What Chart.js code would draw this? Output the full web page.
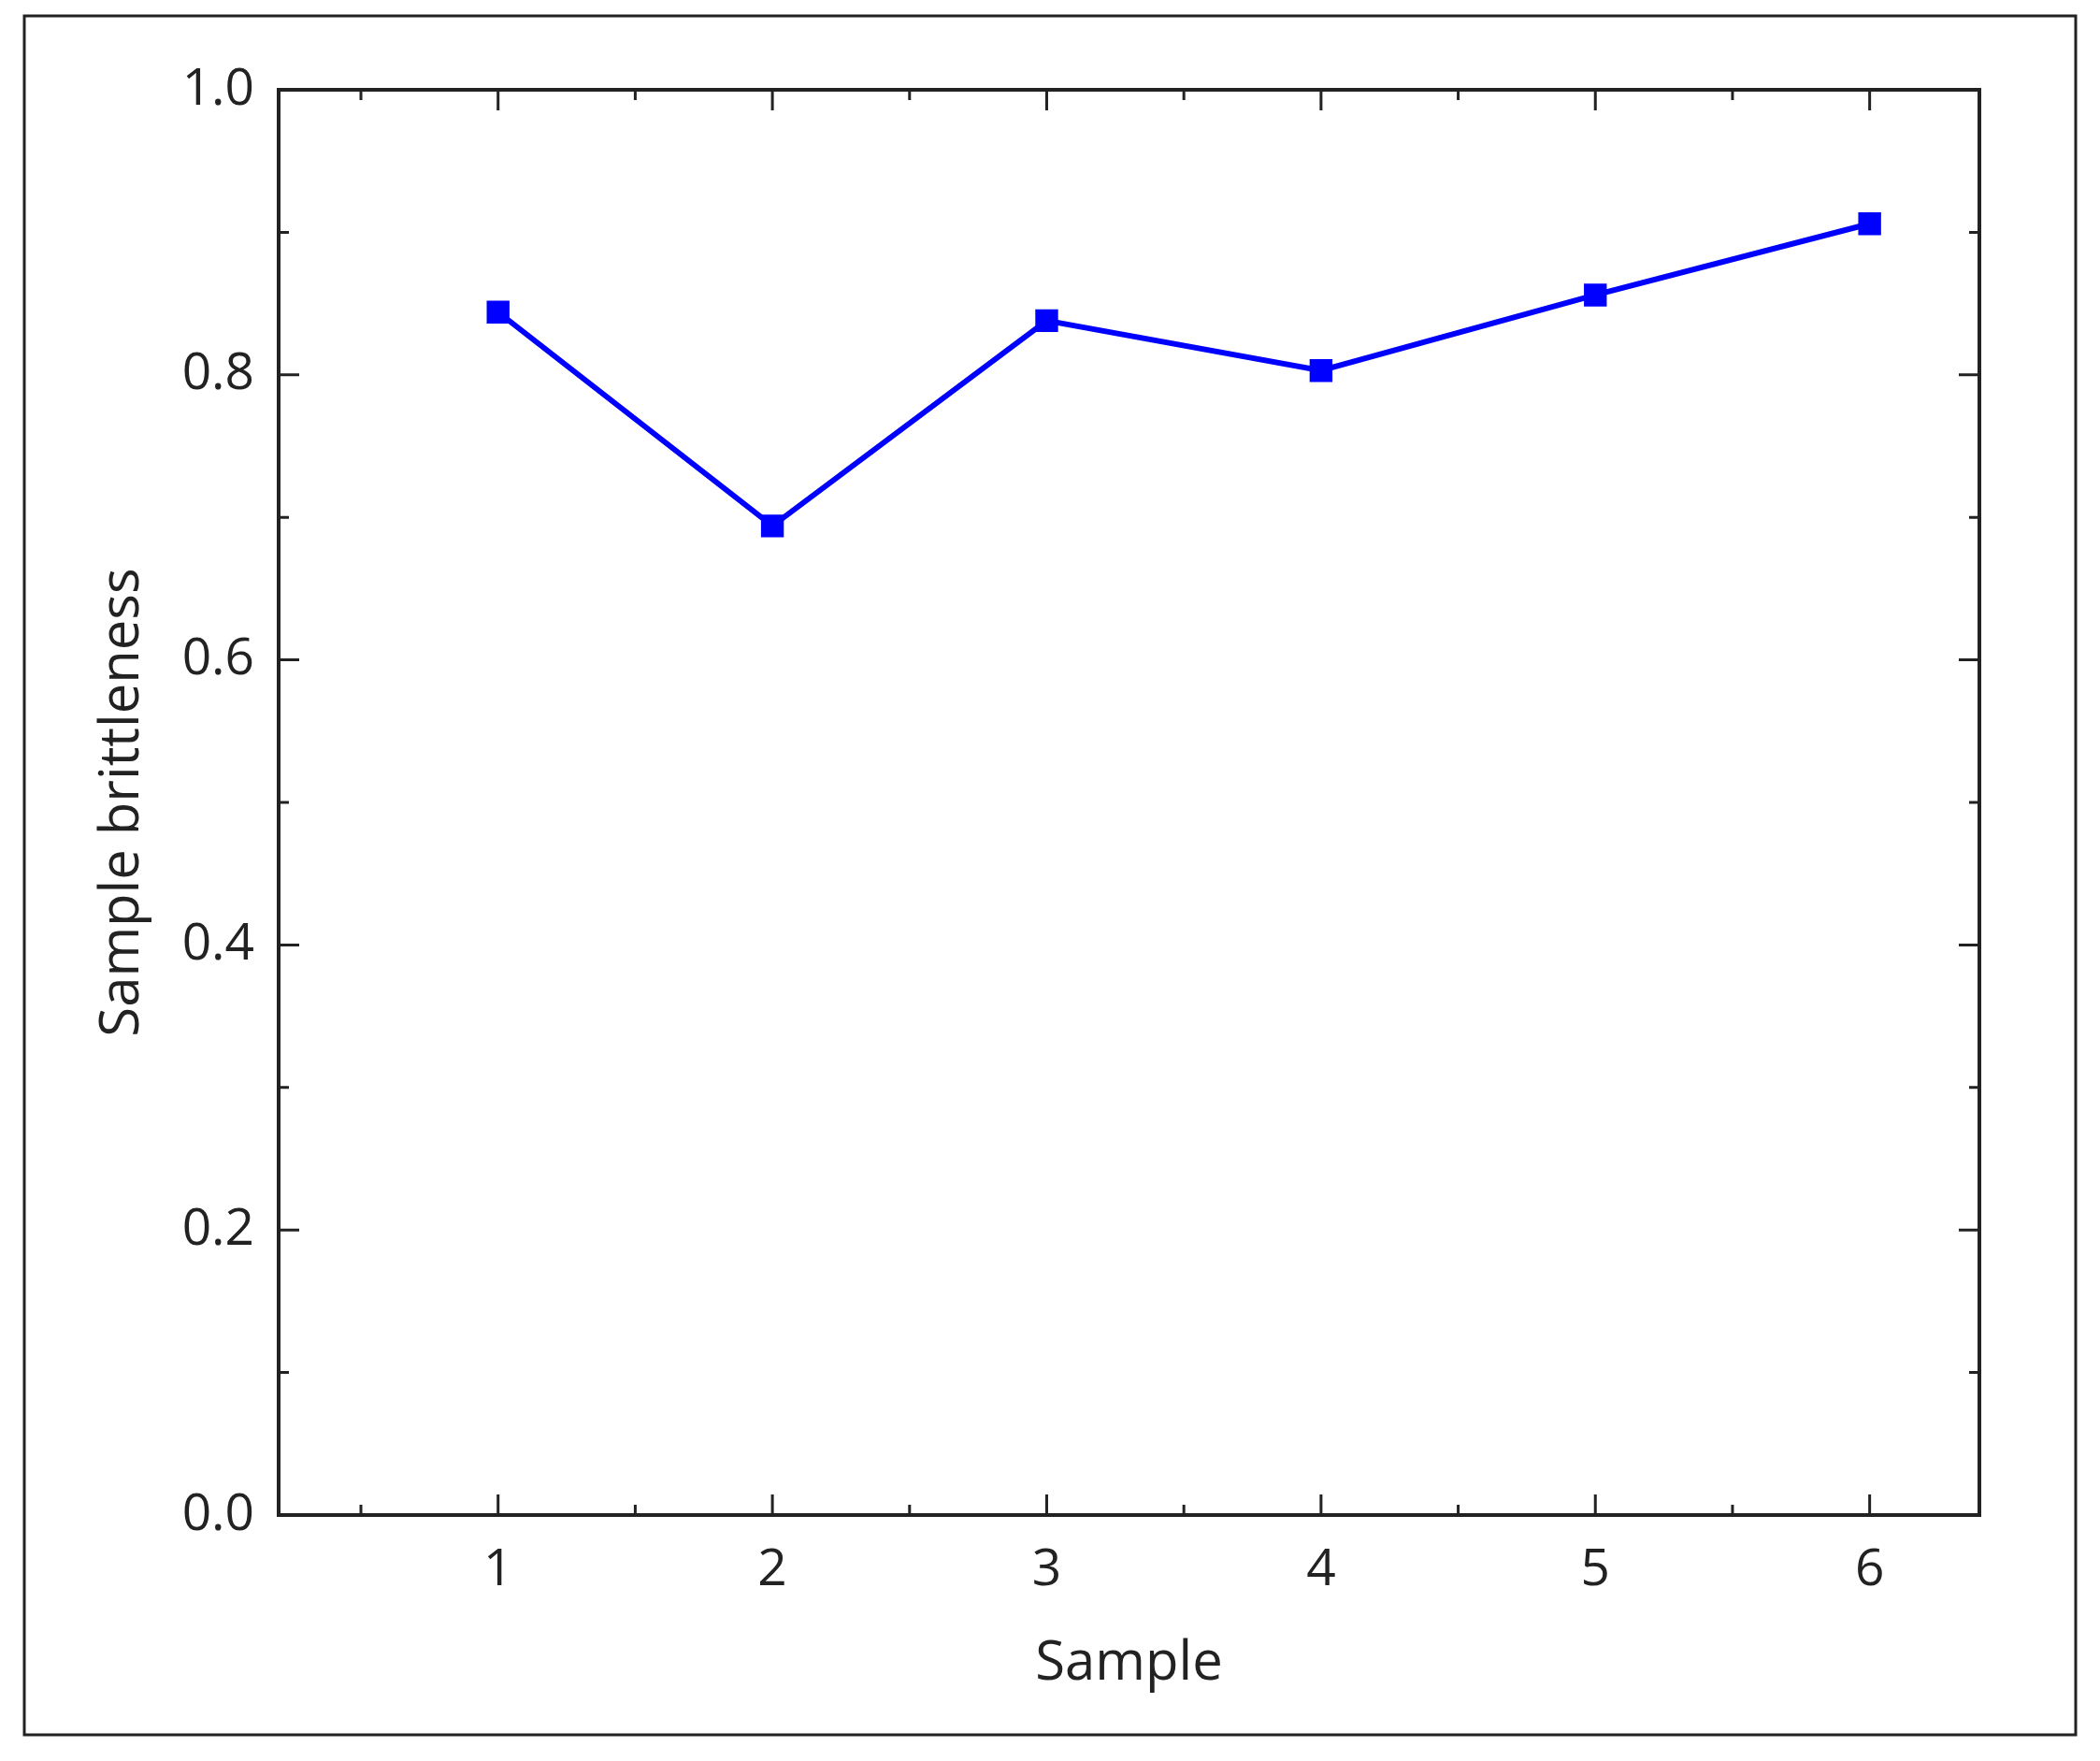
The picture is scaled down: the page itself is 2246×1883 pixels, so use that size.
<!DOCTYPE html>
<html>
<head>
<meta charset="utf-8">
<script src="https://cdn.jsdelivr.net/npm/chart.js@4"></script>
<style>
  body { margin: 0; background: #fff; }
  #wrap { width: 2246px; height: 1883px; }
</style>
</head>
<body>
<div id="wrap"><canvas id="chart"></canvas></div>
<script>
const samples = [1, 2, 3, 4, 5, 6];
const brittleness = [0.844, 0.694, 0.838, 0.803, 0.856, 0.906];
const yTicks = [0.0, 0.2, 0.4, 0.6, 0.8, 1.0];
const xTicks = [1, 2, 3, 4, 5, 6];

const FONT = "'Open Sans', Lato, sans-serif";

// ticks inward on all four sides, plus frames
const framePlugin = {
    id: "frame",
    afterDraw(chart) {
        const ctx = chart.ctx;
        const a = chart.chartArea;
        const xs = chart.scales.x, ys = chart.scales.y;
        ctx.save();
        ctx.strokeStyle = "#222";
        ctx.lineWidth = 3;
        ctx.strokeRect(26, 17, 2194, 1838);
        ctx.lineWidth = 4;
        ctx.strokeRect(a.left, a.top, a.right - a.left, a.bottom - a.top);
        ctx.lineWidth = 3;
        ctx.beginPath();
        for (let v = 0.5; v <= 6.0; v += 0.5) {
            const len = Number.isInteger(v) ? 22 : 11;
            const px = xs.getPixelForValue(v);
            ctx.moveTo(px, a.bottom); ctx.lineTo(px, a.bottom - len);
            ctx.moveTo(px, a.top); ctx.lineTo(px, a.top + len);
        }
        for (let i = 1; i < 10; i++) {
            const v = i / 10;
            const len = i % 2 === 0 ? 22 : 11;
            const py = ys.getPixelForValue(v);
            ctx.moveTo(a.left, py); ctx.lineTo(a.left + len, py);
            ctx.moveTo(a.right, py); ctx.lineTo(a.right - len, py);
        }
        ctx.stroke();
        ctx.restore();
    }
};

new Chart(document.getElementById("chart"), {
    type: "line",
    data: {
        datasets: [{
            data: samples.map((s, i) => ({ x: s, y: brittleness[i] })),
            borderColor: "#0000ff",
            backgroundColor: "#0000ff",
            borderWidth: 6,
            pointStyle: "rect",
            pointRadius: 13,
            tension: 0
        }]
    },
    options: {
        responsive: true,
        maintainAspectRatio: false,
        animation: false,
        devicePixelRatio: 1,
        layout: { padding: { top: 96, right: 129, left: 93, bottom: 65 } },
        plugins: { legend: { display: false }, tooltip: { enabled: false } },
        scales: {
            x: {
                type: "linear",
                min: 0.2, max: 6.4,
                afterBuildTicks: s => { s.ticks = xTicks.map(v => ({ value: v })); },
                afterFit: s => { s.height = 198; },
                grid: { display: false },
                border: { display: false },
                ticks: { color: "#222", font: { family: FONT, size: 55 }, padding: 18 },
                title: { display: true, text: "Sample", color: "#222", font: { family: FONT, size: 58 }, padding: { top: 10 } }
            },
            y: {
                min: 0, max: 1,
                afterBuildTicks: s => { s.ticks = yTicks.map(v => ({ value: v })); },
                afterFit: s => { s.width = 205; },
                grid: { display: false },
                border: { display: false },
                ticks: { color: "#222", font: { family: FONT, size: 55 }, padding: 18, callback: v => v.toFixed(1) },
                title: { display: true, text: "Sample brittleness", color: "#222", font: { family: FONT, size: 58 }, padding: { bottom: 10 } }
            }
        }
    },
    plugins: [framePlugin]
});
</script>
</body>
</html>
